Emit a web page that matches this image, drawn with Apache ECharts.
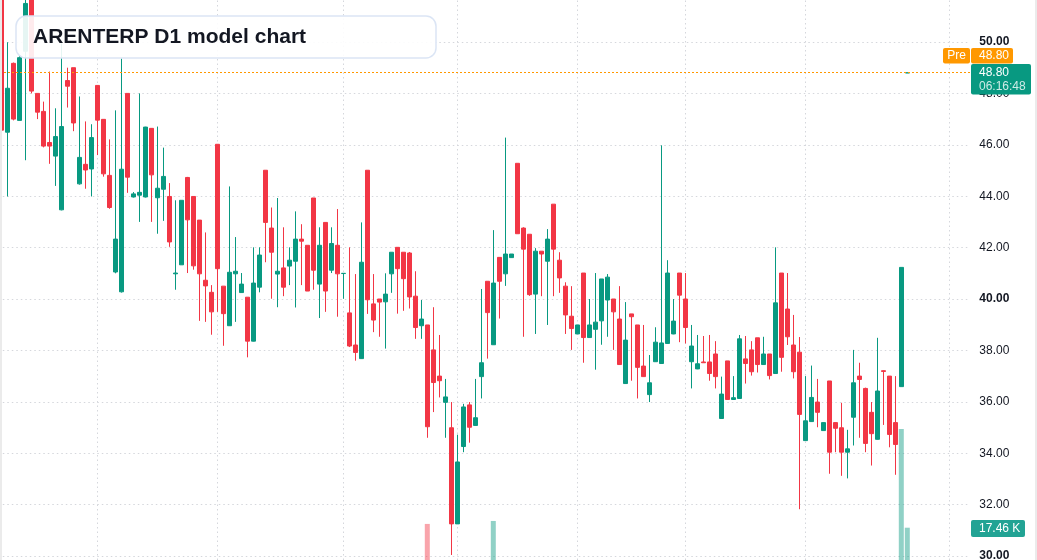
<!DOCTYPE html>
<html>
<head>
<meta charset="utf-8">
<title>ARENTERP D1 model chart</title>
<script src="https://cdn.jsdelivr.net/npm/echarts@6/dist/echarts.min.js"></script>
<style>
  html, body { margin: 0; padding: 0; background: #fff; }
  #main { width: 1037px; height: 560px; }
</style>
</head>
<body>
<div id="main"></div>
<script>
// daily candles, oldest first (the first one is cut by the left edge)
const opens = [
  51.9, 46.49, 49.17, 46.95, 49.64, 51.9, 48.00, 47.30, 46.09, 45.56,
  43.47, 48.50, 49.0, 44.48, 45.24, 45.06, 48.31, 46.99, 44.81, 41.05,
  40.28, 48.00, 43.97, 44.04, 43.97, 46.64, 43.94, 44.27, 43.99, 40.98,
  41.33, 44.73, 43.99, 43.07, 40.73, 40.26, 46.02, 40.50, 38.96, 40.98,
  40.25, 40.07, 38.36, 40.46, 45.01, 42.76, 40.97, 41.21, 41.28, 41.47,
  42.33, 42.09, 43.93, 40.58, 42.98, 41.12, 42.09, 40.99, 39.46, 38.21,
  37.68, 45.01, 39.81, 40.0, 39.89, 40.98, 42.01, 41.82, 41.79, 40.11,
  38.96, 38.99, 38.02, 37.00, 35.98, 34.99, 31.25, 34.26, 35.88, 35.08,
  36.98, 40.69, 38.22, 41.62, 40.98, 41.61, 45.28, 42.76, 42.52, 40.19,
  41.86, 41.47, 43.69, 41.51, 40.50, 39.33, 38.64, 41.01, 38.50, 38.82,
  39.15, 39.96, 40.0, 39.22, 36.71, 39.42, 38.99, 37.39, 36.28, 37.56,
  37.49, 38.27, 38.64, 41.01, 40.0, 37.56, 37.28, 37.55, 37.55, 37.86,
  35.35, 37.59, 36.09, 36.13, 37.67, 38.02, 38.49, 37.45, 37.86, 37.10,
  41.01, 39.61, 38.21, 37.93, 34.49, 35.23, 35.99, 34.88, 36.81, 35.19,
  34.99, 34.04, 35.40, 37.00, 36.52, 35.59, 34.54, 37.21, 37.00, 35.19,
  36.59, 48.80
];
const closes = [
  46.57, 48.20, 47.00, 49.39, 51.5, 48.09, 47.27, 45.95, 45.95, 46.32,
  46.71, 48.28, 46.85, 45.51, 45.02, 46.28, 46.96, 44.87, 43.56, 42.33,
  45.05, 44.74, 44.09, 44.15, 46.69, 44.83, 44.31, 44.77, 42.22, 41.01,
  43.84, 43.08, 41.29, 40.98, 40.51, 39.50, 41.18, 39.43, 41.04, 41.08,
  40.58, 38.36, 40.62, 41.71, 42.98, 41.82, 41.08, 40.46, 41.51, 42.33,
  42.25, 40.31, 41.12, 42.09, 40.31, 42.16, 40.98, 41.0, 38.17, 37.92,
  41.43, 39.97, 39.18, 39.88, 40.19, 41.82, 41.18, 40.79, 40.08, 38.89,
  39.22, 35.03, 36.75, 36.82, 36.19, 31.25, 33.66, 35.80, 35.01, 35.38,
  37.52, 39.47, 40.62, 40.69, 41.75, 41.75, 42.54, 41.94, 40.17, 41.86,
  41.75, 42.33, 41.94, 40.82, 39.38, 38.85, 38.99, 38.50, 38.99, 39.10,
  40.78, 40.85, 39.50, 37.45, 38.40, 39.31, 37.34, 36.98, 36.74, 38.32,
  38.29, 41.01, 39.14, 40.15, 38.89, 38.17, 37.48, 37.52, 37.10, 36.98,
  36.30, 36.09, 36.16, 38.45, 37.49, 37.17, 37.45, 37.86, 37.02, 39.85,
  37.73, 38.53, 37.17, 35.51, 35.26, 36.17, 35.59, 35.19, 34.04, 34.97,
  34.04, 34.17, 36.74, 36.87, 34.38, 34.76, 36.42, 37.18, 34.73, 34.34,
  41.23, 48.80
];
const lows = [
  46.5, 43.99, 46.95, 46.95, 45.40, 48.0, 47.0, 45.9, 45.26, 44.40,
  43.45, 47.45, 46.53, 44.45, 44.29, 43.99, 45.60, 44.76, 43.51, 41.0,
  40.25, 44.13, 43.95, 43.0, 43.95, 43.0, 42.54, 43.04, 42.03, 40.36,
  41.33, 41.01, 41.14, 39.15, 39.11, 38.61, 39.50, 38.18, 38.95, 39.11,
  40.24, 37.73, 38.35, 40.26, 41.43, 40.01, 39.68, 40.11, 40.54, 39.67,
  40.54, 40.31, 40.36, 39.26, 39.50, 41.01, 39.31, 40.01, 38.13, 37.60,
  37.67, 39.42, 38.71, 38.53, 38.07, 40.24, 39.43, 39.54, 39.63, 38.45,
  38.45, 34.60, 35.60, 36.17, 34.60, 30.04, 31.25, 34.04, 34.41, 35.07,
  36.13, 37.68, 38.21, 39.24, 40.51, 41.6, 42.54, 38.53, 40.12, 38.64,
  40.11, 38.99, 40.11, 40.24, 38.64, 38.02, 38.64, 37.52, 38.5, 37.25,
  38.22, 38.53, 38.02, 37.44, 36.70, 36.82, 36.13, 36.97, 35.99, 37.55,
  37.48, 38.26, 38.63, 38.32, 38.27, 36.52, 37.27, 37.51, 36.82, 36.52,
  35.34, 36.09, 36.08, 36.12, 36.71, 37.02, 37.14, 37.44, 36.87, 37.09,
  37.17, 38.21, 36.91, 31.82, 34.48, 35.22, 35.01, 34.88, 33.20, 34.04,
  33.12, 33.02, 34.30, 34.60, 34.04, 33.52, 34.53, 35.10, 34.23, 33.16,
  36.59, 48.80
];
const highs = [
  52.2, 49.99, 49.2, 49.5, 51.8, 52.0, 48.0, 47.68, 48.85, 47.42,
  49.94, 49.0, 49.0, 47.88, 46.91, 46.80, 48.31, 47.0, 46.21, 47.34,
  49.36, 48.0, 44.16, 48.0, 46.7, 46.65, 46.71, 45.89, 44.51, 43.84,
  43.84, 44.75, 43.99, 43.07, 42.59, 40.54, 46.02, 40.5, 44.38, 42.41,
  41.01, 40.07, 42.01, 42.01, 45.01, 43.56, 43.93, 42.79, 42.01, 43.41,
  42.91, 42.09, 43.93, 42.79, 42.98, 42.79, 43.50, 41.0, 42.01, 40.97,
  42.98, 45.01, 40.97, 40.0, 41.0, 41.82, 42.01, 41.82, 41.83, 41.08,
  39.96, 38.99, 39.68, 38.60, 36.89, 35.99, 34.72, 35.92, 35.99, 36.89,
  40.39, 40.69, 42.68, 41.62, 46.28, 41.75, 45.28, 42.79, 42.52, 41.98,
  41.86, 42.72, 43.69, 41.82, 40.65, 40.50, 38.99, 41.01, 40.0, 41.01,
  40.78, 40.97, 40.0, 40.50, 39.88, 39.42, 38.99, 38.99, 37.82, 38.90,
  45.98, 41.51, 40.0, 41.01, 41.01, 38.99, 38.60, 38.56, 38.60, 38.36,
  36.98, 37.59, 37.0, 38.60, 38.56, 38.36, 38.49, 38.53, 37.86, 42.01,
  41.01, 41.01, 39.38, 38.52, 37.0, 37.41, 36.89, 35.2, 36.81, 35.2,
  35.96, 34.91, 38.02, 37.52, 36.55, 35.99, 38.49, 37.22, 37.0, 37.0,
  41.23, 48.80
];

// only a few volume bars are tall enough to show
const volumeIndex = [71, 82, 150, 151];
const volumeValue = [19500, 21100, 70800, 17460];

const priceMin = 30;
const priceMax = 50;
const priceStep = 2;
const periodLines = [16, 36, 57, 76, 96, 114, 134, 158];
const slotCount = 162;
const lastPrice = 48.80;
const prePrice = '48.80';
const countdown = '06:16:48';
const lastVolume = '17.46 K';
const title = 'ARENTERP D1 model chart';

const UP = '#089981';
const DOWN = '#f23645';
const ORANGE = '#ff9800';
const GRIDLINE = '#d5d7dc';
const FONT = '"Liberation Sans", Arial, sans-serif';

const slots = [];
for (let i = 0; i < slotCount; i++) slots.push(String(i));

const candles = opens.map((o, i) => [o, closes[i], lows[i], highs[i]]);

const volumeData = volumeIndex.map((idx, k) => ({
  value: [idx, volumeValue[k]],
  itemStyle: {
    color: closes[idx] < opens[idx] ? 'rgba(242,54,69,0.45)' : 'rgba(8,153,129,0.45)'
  }
}));

const chart = echarts.init(document.getElementById('main'), null, { renderer: 'canvas' });

// same horizontal box for both grids, 6px per slot
const gridBox = { left: -1.7, width: 972, outerBoundsMode: 'none', containLabel: false };

chart.setOption({
  animation: false,
  backgroundColor: '#ffffff',
  grid: [
    Object.assign({ top: 42, bottom: 4 }, gridBox),
    Object.assign({ top: 0, bottom: 0 }, gridBox)
  ],
  xAxis: [
    { type: 'category', gridIndex: 0, data: slots, boundaryGap: true, show: false },
    { type: 'category', gridIndex: 1, data: slots, boundaryGap: true, show: false }
  ],
  yAxis: [
    {
      type: 'value',
      gridIndex: 0,
      position: 'right',
      min: priceMin,
      max: priceMax,
      interval: priceStep,
      axisLine: { show: false },
      axisTick: { show: false },
      splitLine: { show: true, lineStyle: { color: GRIDLINE, type: [1.5, 3], width: 1 } },
      axisLabel: {
        margin: 9,
        color: '#131722',
        fontSize: 12,
        fontFamily: FONT,
        formatter: v => (v % 10 === 0 ? '{b|' + v.toFixed(2) + '}' : v.toFixed(2)),
        rich: { b: { fontWeight: 'bold', fontSize: 12, color: '#131722', fontFamily: FONT } }
      }
    },
    { type: 'value', gridIndex: 1, min: 0, max: 302700, show: false }
  ],
  series: [
    {
      type: 'bar',
      xAxisIndex: 1,
      yAxisIndex: 1,
      barWidth: 5,
      z: 1,
      data: volumeData,
      markLine: {
        z: 0,
        silent: true,
        symbol: 'none',
        label: { show: false },
        lineStyle: { color: GRIDLINE, type: [1.5, 3], width: 1 },
        data: periodLines.map(i => ({ xAxis: i }))
      }
    },
    {
      type: 'candlestick',
      xAxisIndex: 0,
      yAxisIndex: 0,
      barWidth: 4,
      clip: false,
      z: 3,
      data: candles,
      itemStyle: {
        color: UP,
        color0: DOWN,
        borderColor: UP,
        borderColor0: DOWN,
        borderWidth: 1
      }
    }
  ]
});

// last-price line: y from the price scale, snapped to a pixel row so it stays crisp
const priceY = Math.floor(chart.convertToPixel({ yAxisIndex: 0 }, lastPrice)) + 0.5;
const plotRight = chart.convertToPixel({ xAxisIndex: 0 }, String(slotCount - 1)) + 3;

chart.setOption({
  graphic: [
    {
      type: 'line', z: 50, silent: true,
      shape: { x1: 0, y1: priceY, x2: plotRight, y2: priceY },
      style: { stroke: ORANGE, lineWidth: 1, lineDash: [2, 2] }
    },
    { type: 'rect', z: 100, shape: { x: 0, y: 0, width: 2, height: 560 }, style: { fill: '#ebebeb' } },
    { type: 'rect', z: 100, shape: { x: 1035, y: 0, width: 2, height: 560 }, style: { fill: '#ebebeb' } },
    {
      type: 'rect', z: 100,
      shape: { x: 16, y: 16, width: 420, height: 42, r: 10 },
      style: { fill: 'rgba(255,255,255,0.9)', stroke: '#dbe5f5', lineWidth: 1.5 }
    },
    {
      type: 'text', z: 101, x: 33, y: 37,
      style: { text: title, fill: '#131722', font: 'bold 21px ' + FONT, verticalAlign: 'middle' }
    },
    { type: 'rect', z: 100, shape: { x: 943, y: 48, width: 27, height: 15.5, r: 2 }, style: { fill: ORANGE } },
    {
      type: 'text', z: 101, x: 956.5, y: 56,
      style: { text: 'Pre', fill: '#ffffff', font: '12px ' + FONT, align: 'center', verticalAlign: 'middle' }
    },
    { type: 'rect', z: 100, shape: { x: 971, y: 48, width: 42, height: 15.5, r: 2 }, style: { fill: ORANGE } },
    {
      type: 'text', z: 101, x: 979, y: 56,
      style: { text: prePrice, fill: '#ffffff', font: '12px ' + FONT, verticalAlign: 'middle' }
    },
    { type: 'rect', z: 100, shape: { x: 971, y: 64, width: 60, height: 30.5, r: 2 }, style: { fill: UP } },
    {
      type: 'text', z: 101, x: 979, y: 72.5,
      style: { text: lastPrice.toFixed(2), fill: '#ffffff', font: '12px ' + FONT, verticalAlign: 'middle' }
    },
    {
      type: 'text', z: 101, x: 979, y: 87,
      style: { text: countdown, fill: 'rgba(255,255,255,0.8)', font: '12px ' + FONT, verticalAlign: 'middle' }
    },
    { type: 'rect', z: 100, shape: { x: 971, y: 520, width: 54, height: 17, r: 2 }, style: { fill: '#22a394' } },
    {
      type: 'text', z: 101, x: 979, y: 528.5,
      style: { text: lastVolume, fill: '#ffffff', font: '12px ' + FONT, verticalAlign: 'middle' }
    }
  ]
});
</script>
</body>
</html>
